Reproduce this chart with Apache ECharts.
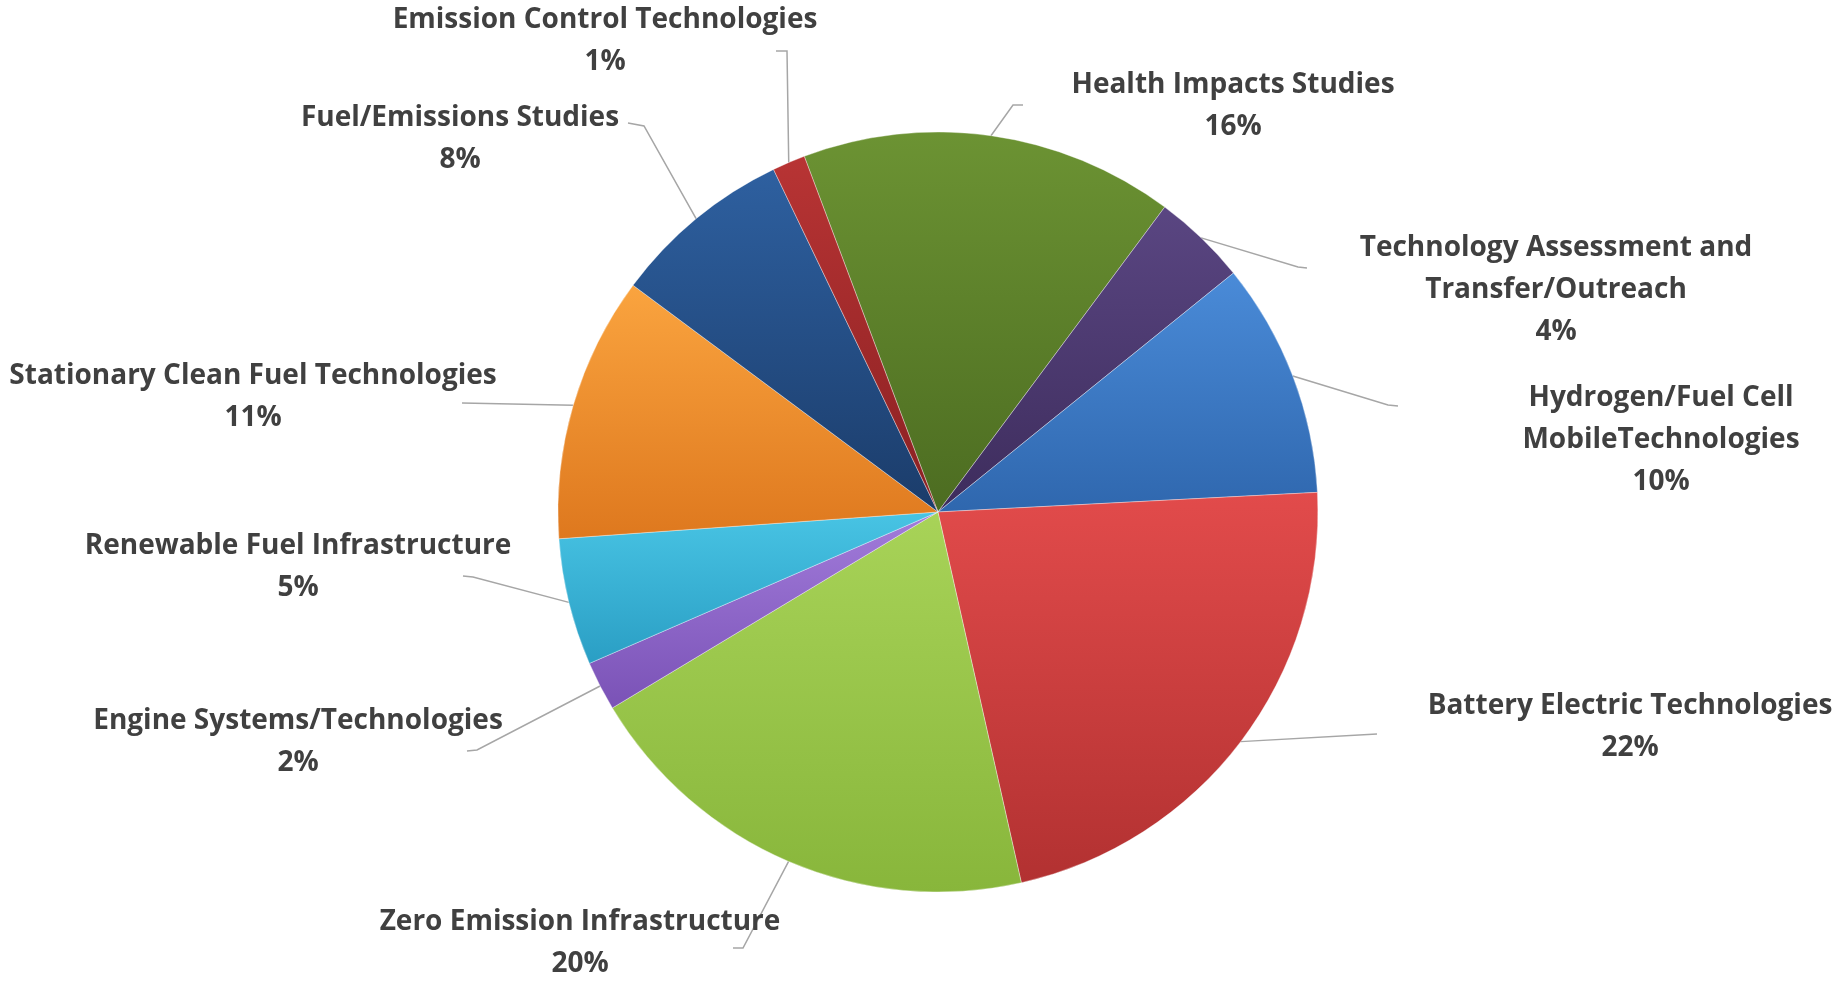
<!DOCTYPE html>
<html>
<head>
<meta charset="utf-8">
<script src="https://cdn.jsdelivr.net/npm/echarts@6/dist/echarts.min.js"></script>
<style>
html,body{margin:0;padding:0;background:#fff;}
#chart{width:1842px;height:981px;}
</style>
</head>
<body>
<div id="chart"></div>
<script>
// ---- data ----
const categories = [
  'Health Impacts Studies',
  'Technology Assessment and\nTransfer/Outreach',
  'Hydrogen/Fuel Cell\nMobileTechnologies',
  'Battery Electric Technologies',
  'Zero Emission Infrastructure',
  'Engine Systems/Technologies',
  'Renewable Fuel Infrastructure',
  'Stationary Clean Fuel Technologies',
  'Fuel/Emissions Studies',
  'Emission Control Technologies'
];
const shares = [15.9, 4.0, 10.0, 22.3, 19.9, 2.1, 5.4, 11.3, 7.7, 1.4];

// ---- styles (light top, dark bottom) ----
const sliceColors = [
  ['#6c9333', '#4c6c21'],
  ['#5a4682', '#3d2c5c'],
  ['#4a8bd8', '#2f67ae'],
  ['#e24b4b', '#b23131'],
  ['#a8d358', '#88b63b'],
  ['#a27cdb', '#7a52b6'],
  ['#48c4e4', '#2a9ec4'],
  ['#faa43f', '#de781e'],
  ['#2e60a0', '#1b3c6a'],
  ['#b83434', '#8a2022']
];

// label layout: [centerX, centerY, lineEndX, lineEndY, bendX, bendY]
const labelSpots = [
  [1233, 106, 1023, 105, 1013, 105],
  [1556, 290, 1307, 268, 1298, 267],
  [1661, 440, 1398, 406, 1388, 405],
  [1630, 727, 1377, 734, 1377, 734],
  [580, 943, 733, 948, 743, 948],
  [298, 742, 467, 751, 477, 750],
  [298, 567, 463, 576, 473, 577],
  [253, 397, 462, 403, 462, 403],
  [460, 139, 628, 123, 644, 126],
  [605, 41, 776, 51, 787, 51]
];

const chart = echarts.init(document.getElementById('chart'));
const seriesData = categories.map((name, i) => ({
  name: name,
  value: shares[i],
  itemStyle: {
    color: new echarts.graphic.LinearGradient(0, 0, 0, 1, [
      {offset: 0, color: sliceColors[i][0]},
      {offset: 1, color: sliceColors[i][1]}
    ])
  }
}));

chart.setOption({
  backgroundColor: '#ffffff',
  animation: false,
  series: [{
    type: 'pie',
    center: ['50.92%', '52.19%'],
    radius: 380,
    startAngle: 110.6,
    clockwise: true,
    avoidLabelOverlap: false,
    data: seriesData,
    itemStyle: {
      borderColor: 'rgba(255,255,255,0.35)',
      borderWidth: 1
    },
    label: {
      show: true,
      position: 'outside',
      formatter: function (p) { return p.name + '\n' + Math.round(p.percent) + '%'; },
      fontFamily: 'Open Sans',
      fontWeight: 'bold',
      fontSize: 28,
      lineHeight: 42,
      color: '#404040'
    },
    labelLine: {
      show: true,
      length: 20,
      length2: 10,
      lineStyle: {color: '#a6a6a6', width: 1.5}
    },
    labelLayout: function (p) {
      const s = labelSpots[p.dataIndex];
      const start = p.labelLinePoints ? p.labelLinePoints[0] : [s[4], s[5]];
      return {
        x: s[0],
        y: s[1],
        align: 'center',
        verticalAlign: 'middle',
        labelLinePoints: [start, [s[4], s[5]], [s[2], s[3]]]
      };
    }
  }]
});
</script>
</body>
</html>
